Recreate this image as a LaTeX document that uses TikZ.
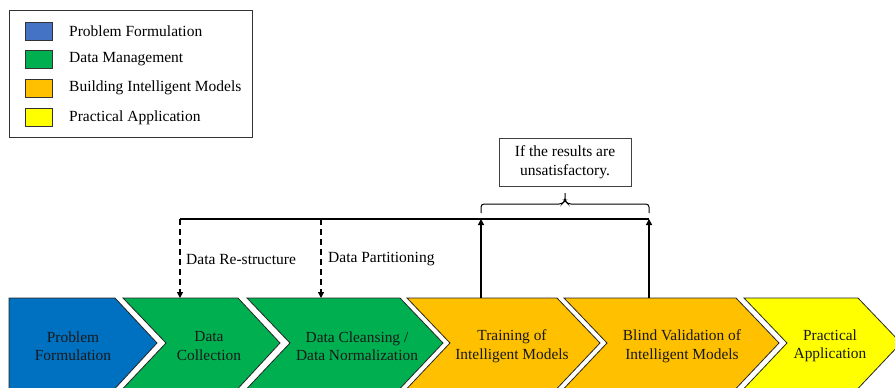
\documentclass[tikz,border=0pt]{standalone}
\usepackage{fontspec}
\setmainfont{Liberation Serif}
\usetikzlibrary{arrows.meta}

\definecolor{pfblue}{HTML}{0070C0}
\definecolor{lgblue}{HTML}{4472C4}
\definecolor{dmgreen}{HTML}{00B050}
\definecolor{bimorange}{HTML}{FFC000}
\definecolor{payellow}{HTML}{FFFF00}

\tikzset{
  chev/.style={draw=black!85, line width=0.8pt, line join=miter},
  chevtext/.style={align=center, font=\fontsize{15.4}{18.5}\selectfont, text=black!90},
  swatch/.style={draw=black!80, line width=0.9pt, minimum width=27pt, minimum height=18pt, inner sep=0pt},
  legtext/.style={anchor=west, font=\fontsize{15.5}{17}\selectfont, inner sep=0pt},
  flow/.style={line width=1.3pt, -{Triangle[length=6pt,width=6pt]}},
  feed/.style={line width=1.2pt, dash pattern=on 6pt off 4pt, -{Triangle[length=6pt,width=6pt]}},
  bar/.style={line width=1.2pt},
  labeltext/.style={anchor=west, font=\fontsize{15.5}{17}\selectfont, inner sep=0pt},
}

\begin{document}
\begin{tikzpicture}[x=1pt, y=-1pt]
\useasboundingbox (0,0) rectangle (895,388);

% ---- legend ----
\draw[line width=1pt, draw=black!80] (9,10) rectangle (252,137);
\node[swatch, fill=lgblue]    (s1) at (38.5,31) {};
\node[swatch, fill=dmgreen]   (s2) at (38.5,59.5) {};
\node[swatch, fill=bimorange] (s3) at (38.5,88) {};
\node[swatch, fill=payellow]  (s4) at (38.5,117.5) {};
\node[legtext] (l1) at (69,31) {Problem Formulation};
\node[legtext] (l2) at (69,59.5) {Data Management};
\node[legtext] (l3) at (69,88) {Building Intelligent Models};
\node[legtext] (l4) at (69,117.5) {Practical Application};

% ---- process chevrons ----
\def\ty{298}\def\my{343}\def\by{388.5}
\fill[pfblue] (9,\ty) -- (115,\ty) -- (157,\my) -- (115,\by) -- (9,\by) -- cycle;
\draw[chev] (9,\by) -- (9,\ty) -- (115,\ty) -- (157,\my) -- (115,\by);

\fill[dmgreen] (123,\ty) -- (238,\ty) -- (280,\my) -- (238,\by) -- (123,\by) -- (166,\my) -- cycle;
\draw[chev] (123,\by) -- (166,\my) -- (123,\ty) -- (238,\ty) -- (280,\my) -- (238,\by);

\fill[dmgreen] (247,\ty) -- (400,\ty) -- (443,\my) -- (400,\by) -- (247,\by) -- (290,\my) -- cycle;
\draw[chev] (247,\by) -- (290,\my) -- (247,\ty) -- (400,\ty) -- (443,\my) -- (400,\by);

\fill[bimorange] (407,\ty) -- (557,\ty) -- (600,\my) -- (557,\by) -- (407,\by) -- (450,\my) -- cycle;
\draw[chev] (407,\by) -- (450,\my) -- (407,\ty) -- (557,\ty) -- (600,\my) -- (557,\by);

\fill[bimorange] (564,\ty) -- (736,\ty) -- (779,\my) -- (736,\by) -- (564,\by) -- (607,\my) -- cycle;
\draw[chev] (564,\by) -- (607,\my) -- (564,\ty) -- (736,\ty) -- (779,\my) -- (736,\by);

\fill[payellow] (744,\ty) -- (858,\ty) -- (901,\my) -- (858,\by) -- (744,\by) -- (787,\my) -- cycle;
\draw[chev] (744,\by) -- (787,\my) -- (744,\ty) -- (858,\ty) -- (901,\my) -- (858,\by);

\node[chevtext] (pf) at (73,346)  {Problem\\Formulation};
\node[chevtext] (dc) at (209,346) {Data\\Collection};
\node[chevtext] (dn) at (357,346) {Data Cleansing /\\Data Normalization};
\node[chevtext] (tr) at (512,346) {Training of\\Intelligent Models};
\node[chevtext] (bv) at (682,346) {Blind Validation of\\Intelligent Models};
\node[chevtext] (pa) at (830,346) {Practical\\Application};

% ---- feedback loop ----
\coordinate (dcTop) at (180,\ty);
\coordinate (dnTop) at (321,\ty);
\coordinate (trTop) at (481,\ty);
\coordinate (bvTop) at (649,\ty);
\coordinate (lineL) at (180,219);
\coordinate (lineA) at (321,219);
\coordinate (lineB) at (481,219);
\coordinate (lineR) at (649,219);

\draw[bar] (lineL) -- (lineR);
\draw[flow] (trTop) -- (lineB);
\draw[flow] (bvTop) -- (lineR);
\draw[feed] (lineL) -- (dcTop);
\draw[feed] (lineA) -- (dnTop);

\node[labeltext] (rs) at (186,259) {Data Re-structure};
\node[labeltext] (dp) at (328,259) {Data Partitioning};

% bracket grouping the two return paths
\node[draw=black!75, line width=0.9pt, align=center, minimum width=132pt, minimum height=48pt,
      font=\fontsize{15.5}{18.5}\selectfont, inner sep=2pt] (cond) at (565,162) {If the results are\\unsatisfactory.};
\coordinate (brL) at (481,213);
\coordinate (brR) at (649,213);
\draw[line width=1pt, rounded corners=3pt]
  (brL) -- (481,204) -- (562,204) -- (565,201) -- (565,193)
  (565,193) -- (565,201) -- (568,204) -- (649,204) -- (brR);
\end{tikzpicture}
\end{document}
